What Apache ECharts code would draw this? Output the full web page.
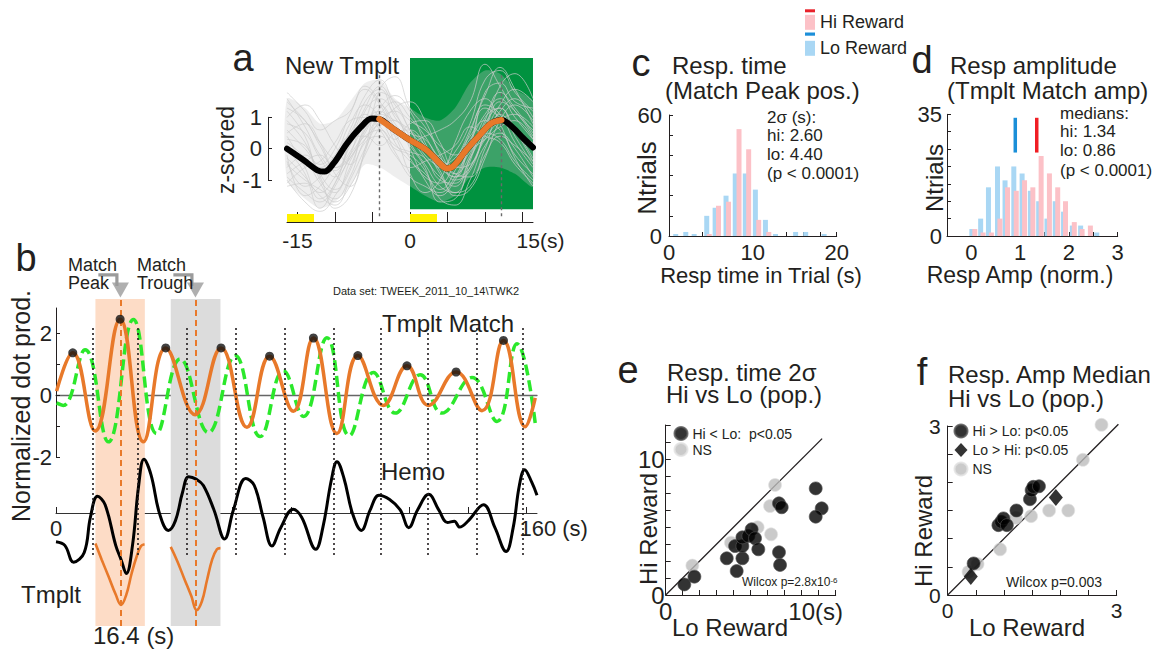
<!DOCTYPE html>
<html><head><meta charset="utf-8">
<script src="https://cdn.jsdelivr.net/npm/echarts@6/dist/echarts.min.js"></script>
<style>html,body{margin:0;padding:0;background:#fff}#c{width:1154px;height:649px}</style>
</head><body><div id="c"></div>
<script>
// ================= DATA =================
// ---- panel a : new template ----
const aMean = [[-16.4,0.0],[-14.2,-0.36],[-12.4,-0.68],[-11.4,-0.73],[-10.2,-0.47],[-8.4,0.17],[-6.6,0.68],[-5.1,0.97],[-4.1,0.95],[-2.3,0.65],[0,0.28],[2.2,-0.04],[4.0,-0.47],[4.9,-0.63],[5.8,-0.55],[7.5,-0.04],[9.3,0.44],[10.8,0.81],[12.2,0.92],[13.7,0.68],[15.0,0.36],[16.4,0.04]];
const aTmplWindow = [-4.1, 12.2];
const aTraceX = [-16.4,-14,-12,-10,-8,-6,-4,-2,0,2,4,6,8,10,12,14,16.4];
const aBandHi = [1.6,1.3,0.8,0.9,1.5,2.1,2.2,1.6,1.3,1.0,0.9,1.3,2.1,2.5,2.4,1.9,1.5];
const aBandLo = [-1.0,-1.6,-1.9,-1.7,-1.2,-0.5,-0.6,-0.9,-1.2,-1.5,-1.7,-1.5,-0.9,-0.6,-0.6,-0.8,-1.2];
const aTraces = [
  [0.8,0.5,-0.3,-0.9,-0.2,1.2,1.6,1.1,0.4,-0.3,-0.9,-1.2,-0.3,0.9,1.8,1.3,0.5],
  [-0.9,-1.4,-1.7,-1.1,0.1,0.9,1.2,0.2,-0.4,-0.8,-1.3,-0.7,0.5,1.4,1.1,0.2,-0.6],
  [1.5,0.9,0.2,-0.3,0.6,1.7,2.2,1.4,0.9,0.6,0.1,-0.2,0.3,1.1,1.6,1.0,0.3],
  [-0.5,-1.0,-1.3,-1.6,-0.9,0.2,0.4,0.0,-0.2,-0.7,-1.6,-1.8,-1.0,0.1,0.5,0.0,-0.9],
  [0.3,0.1,-0.6,-0.2,0.8,1.4,1.0,0.3,0.8,0.9,0.2,-0.6,-0.5,0.4,1.2,1.6,1.0],
  [1.2,0.4,-1.0,-1.4,-0.4,0.5,1.3,1.7,1.2,0.2,-0.6,-0.1,0.8,2.2,2.5,1.8,1.2],
  [-1.1,-0.6,-0.4,0.2,0.9,1.0,0.6,-0.2,-0.6,-0.4,-0.2,0.1,0.7,0.4,0.2,-0.5,-1.1],
  [0.0,-0.8,-1.9,-1.2,-0.3,0.3,0.8,0.9,0.0,-1.0,-1.5,-1.0,-0.1,0.3,0.7,0.9,0.3],
  [1.8,1.2,0.6,0.9,1.2,2.0,1.5,0.7,0.2,0.4,0.6,0.9,1.5,2.7,2.0,1.2,0.6],
  [-0.2,-1.5,-1.2,-0.5,0.4,0.4,0.1,0.5,0.6,0.1,-0.8,-1.4,-1.2,-0.2,0.4,0.1,-0.4],
  [0.5,0.8,0.2,-0.8,-1.2,0.0,1.9,2.3,1.3,0.7,-0.1,-0.8,-0.9,0.0,1.1,0.6,-0.3],
  [-0.6,-0.2,-0.9,-1.9,-1.5,-0.1,0.9,0.4,-0.8,-1.4,-1.0,0.2,1.2,1.6,0.8,-0.3,-1.2],
  [1.0,1.4,0.9,0.1,-0.5,0.3,1.1,1.5,1.0,0.4,-0.4,-0.9,-0.6,0.5,1.4,1.9,1.5],
  [-1.0,-1.7,-2.0,-1.5,-0.6,0.6,1.4,0.8,0.1,-0.6,-1.7,-1.6,-0.4,0.8,1.3,0.6,-0.4],
  [0.2,-0.3,-1.1,-1.7,-1.2,-0.2,0.7,1.3,1.5,0.9,-0.2,-1.0,-0.7,0.6,2.0,2.4,1.6],
  [0.6,0.0,-0.5,0.0,1.1,1.9,1.4,0.5,-0.3,-0.9,-1.1,-0.4,0.6,1.7,2.6,1.9,0.8],
  [-0.3,-0.9,-1.5,-1.8,-1.0,0.0,0.9,1.2,0.6,-0.2,-0.5,-0.3,0.4,0.9,0.6,-0.2,-0.8],
  [1.3,0.9,0.1,-0.6,-0.1,0.9,1.8,1.5,0.6,0.0,-0.7,-1.5,-1.3,-0.3,0.9,1.4,0.9],
  [-0.8,-0.4,-0.2,-0.6,-0.3,0.6,1.0,0.6,0.3,-0.1,-0.4,-0.8,-0.2,1.0,1.3,0.4,-0.5],
  [0.4,-0.6,-1.6,-1.1,0.2,1.3,2.0,1.2,0.2,-0.5,-1.2,-1.4,-0.6,0.3,0.9,1.1,0.7],
  [0.9,0.2,-0.8,-1.3,-0.7,0.7,1.1,0.9,0.6,0.1,-0.6,-0.9,0.2,1.3,1.0,0.5,0.2],
  [-0.4,-1.2,-0.9,-0.3,0.5,1.1,0.7,0.1,-0.1,-0.3,-1.0,-1.1,-0.3,0.6,1.5,1.2,0.4],
  [1.6,0.7,-0.2,-0.7,0.3,1.5,1.9,1.0,0.5,0.3,-0.3,-0.6,0.1,1.8,2.1,1.5,1.3],
  [-1.2,-1.1,-1.4,-0.9,-0.2,0.4,0.6,-0.1,-0.9,-1.2,-1.4,-0.9,0.0,0.5,0.3,-0.4,-1.0]
];
const aStim = [[-16.4,-12.8],[0,3.6]];
const aResp = [0, 16.4];
const aXTicks = [-15,-10,-5,0,5,10,15];
const aXLabels = [-15,0,15];
const aYTicks = [-1,0,1];

// ---- panel b : template match over a session ----
const bMatch = [[0.2,0.13],[5.7,1.37],[13.3,-1.16],[21.8,2.46],[29.7,-1.51],[37.3,1.53],[47.3,-0.63],[56.1,1.53],[64.9,-1.04],[72.6,1.26],[80.7,-0.52],[87.5,1.85],[95.5,-1.24],[102.6,1.28],[111.3,-0.33],[119.3,0.95],[126.6,-0.33],[136.0,0.75],[144.8,-0.5],[152.1,1.77],[159.5,-1.02],[162.9,-0.09]];
const bShifted = [[0.2,-0.25],[2.5,-0.33],[9.9,1.47],[17.8,-1.51],[26.3,2.45],[34.2,-1.24],[42.2,1.17],[51.8,-1.21],[60.9,1.28],[69.4,-1.34],[77.3,0.79],[84.1,-0.69],[92.1,1.86],[99.7,-1.31],[107.9,0.73],[115.3,-0.58],[123.8,0.66],[131.2,-0.58],[141.4,0.57],[149.9,-0.85],[156.7,1.66],[162.9,-0.91]];
const bPeaks = [[5.7,1.37],[21.8,2.46],[37.3,1.53],[56.1,1.53],[72.6,1.26],[87.5,1.85],[102.6,1.28],[119.3,0.95],[136.0,0.75],[152.1,1.77]];
const bHemo = [[0.0,-0.94],[3.0,-1.06],[6.0,-1.61],[9.6,-1.29],[11.7,-0.14],[14.1,0.55],[16.7,0.27],[20.3,-1.06],[22.1,-1.52],[23.9,-1.98],[26.0,-1.06],[28.1,0.90],[29.9,1.76],[32.3,1.25],[35.2,-0.02],[38.2,-0.57],[40.6,-0.25],[43.0,0.67],[45.1,1.19],[47.8,1.10],[50.1,0.90],[53.7,0.10],[57.3,-0.85],[60.3,0.10],[64.5,1.13],[67.4,0.90],[70.4,-0.14],[73.4,-1.08],[76.4,-0.48],[80.6,0.12],[83.5,-0.14],[88.3,-1.19],[90.7,-0.48],[93.7,1.13],[95.5,1.68],[97.9,1.13],[100.8,-0.02],[103.8,-0.57],[106.8,0.10],[109.8,0.58],[113.4,0.44],[117.0,0.10],[119.9,-0.48],[122.9,0.10],[126.7,0.61],[130.1,0.10],[133.1,-0.31],[135.4,-0.27],[137.2,-0.46],[140.2,-0.25],[145.3,0.27],[149.2,-0.48],[153.0,-1.26],[155.4,-0.48],[157.5,0.90],[159.3,1.42],[161.7,1.01],[163.5,0.58]];
const bTmplPeak = [[13.4,-1.0],[15.5,-1.52],[17.9,-2.09],[20.3,-2.67],[22.1,-3.01],[23.9,-2.67],[25.7,-1.98],[27.5,-1.40],[28.9,-1.08],[30.1,-1.02]];
const bTmplTrough = [[39.0,-1.11],[41.2,-1.57],[43.6,-2.15],[46.0,-2.72],[47.8,-3.18],[49.6,-2.89],[51.3,-2.21],[53.1,-1.52],[54.7,-1.19],[55.9,-1.15]];
const bTrialLines = [12.4,27.9,44.4,61.2,77.6,94.3,110.4,126.5,142.9,158.8];
const bPeakBox = [13.4,30.2];
const bTroughBox = [39.0,55.9];
const bMatchTimes = [21.9,47.4];
const bYTicks = [-2,-1,0,1,2];
const bYLabels = [-2,0,2];
const bXTicks = [0,20,40,60,80,100,120,140,160];
const bXLabels = [0,160];

// ---- panel c : response time histogram ----
const cHi = [[4.8,1],[5.9,15],[7.1,17],[8.35,53],[9.5,43],[10.7,8],[11.9,2]];
const cLo = [[0.8,1],[2.0,2],[3.0,1],[4.5,10],[5.5,14],[6.8,20],[7.9,31],[9.1,31],[10.3,23],[11.5,8],[12.7,1],[15.1,2],[16.3,2],[18.5,1]];
const cXTicks = [0,2,4,6,8,10,12,14,16,18,20];
const cXLabels = [0,10,20];
const cYTicks = [0,10,20,30,40,50,60];
const cYLabels = [0,60];

// ---- panel d : response amplitude histogram ----
const dHi = [[0.07,2],[0.24,1],[0.41,1],[0.585,5],[0.74,14],[0.92,13],[1.09,16],[1.26,14],[1.43,23],[1.60,18],[1.77,14],[1.93,10],[2.11,4],[2.27,2],[2.44,3]];
const dLo = [[0.01,2],[0.19,5],[0.35,14],[0.535,20],[0.69,16],[0.87,20],[1.04,18],[1.21,13],[1.38,10],[1.55,5],[1.72,10],[1.89,7],[2.07,3],[2.24,3],[2.57,1]];
const dMedianLo = 0.9;
const dMedianHi = 1.34;
const dXTicks = [-0.5,0,0.5,1,1.5,2,2.5,3];
const dXLabels = [0,1,2,3];
const dYTicks = [0,5,10,15,20,25,30,35];
const dYLabels = [0,35];

// ---- panel e : resp time 2 sigma, population ----
const eSig = [[1.37,0.78],[2.11,1.35],[4.49,2.70],[5.22,1.76],[5.64,2.70],[5.10,3.60],[5.64,3.60],[5.64,4.24],[6.08,4.34],[6.32,4.83],[6.57,4.17],[6.81,3.36],[8.33,3.14],[8.41,2.21],[8.33,6.74],[8.53,6.45],[11.03,7.84],[11.47,6.37],[11.03,5.76]];
const eNS = [[1.96,2.16],[4.80,3.85],[6.76,4.98],[7.75,4.46],[7.67,6.54],[8.04,8.09]];
const eUnity = [0, 11.5];
const eTicks = [0,1.25,2.5,3.75,5,6.25,7.5,8.75,10,11.25,12.5];
const eLabels = [0,10];

// ---- panel f : resp amplitude median, population ----
const fHiSig = [[0.46,0.56],[0.90,1.24],[0.95,1.30],[0.99,1.36],[1.05,1.24],[1.22,1.50],[1.46,1.70],[1.49,1.86],[1.52,1.92],[1.62,1.93]];
const fLoSig = [[0.41,0.33],[1.92,1.73]];
const fNS = [[0.37,0.41],[0.53,0.55],[0.93,0.81],[1.21,1.37],[1.48,1.40],[1.80,1.50],[2.14,1.50],[2.40,2.40],[2.73,3.02]];
const fUnity = [0, 3.03];
const fTicks = [0,0.5,1,1.5,2,2.5,3];
const fLabels = [0,3];

// ================= STYLE / LAYOUT =================
const F = '"Liberation Sans", Arial, Helvetica, sans-serif';
const INK = '#231F20';
const ORANGE = '#E8792A';
const LIME = '#2BE82B';
const PINK = '#FCC1C7';
const LBLUE = '#A9D7F4';
const GREEN = '#00923F';

const grids = [
  {left:287, top:58, width:246, height:164},        //0 a main
  {left:287, top:214, width:246, height:8},         //1 a stimulus bars
  {left:268, top:117.3, width:10, height:62.7},     //2 a y bracket
  {left:56, top:299, width:481, height:327},        //3 b shaded boxes
  {left:56, top:326, width:481, height:229},        //4 b trial lines
  {left:56, top:308, width:481, height:149},        //5 b match traces
  {left:56, top:440, width:481, height:73},         //6 b hemo (baseline = bottom)
  {left:56, top:270, width:481, height:29},         //7 b arrows
  {left:669, top:115, width:167.7, height:121},     //8 c
  {left:947, top:114.3, width:170.7, height:121.7}, //9 d
  {left:665.7, top:425, width:170, height:170},     //10 e
  {left:947.7, top:426, width:169, height:169}      //11 f
].map(g => Object.assign({containLabel:false, outerBoundsMode:'none', show:false}, g));

function hid(grid, min, max) {
  return {gridIndex:grid, type:'value', min, max, show:false, axisLine:{onZero:false}};
}
function vis(grid, min, max, ticks, labels, o) {
  o = o || {};
  return {
    gridIndex:grid, type:'value', min, max, show:true,
    axisLine:{show:o.line !== false, onZero:!!o.onZero, lineStyle:{color:o.lineColor||INK, width:o.lineWidth||1}},
    axisTick:{show:ticks.length>0, inside:true, length:o.tickLen||4, customValues:ticks, lineStyle:{color:INK, width:1}},
    axisLabel:{show:labels.length>0, customValues:labels, fontSize:o.fs||22, fontFamily:F, color:INK,
      margin:(o.margin!=null?o.margin:5), formatter:o.fmt, rich:o.rich},
    splitLine:{show:false}, splitArea:{show:false}
  };
}

const xAxes = [
  vis(0, -16.4, 16.4, aXTicks, aXLabels, {fs:21, tickLen:10, margin:8,
      fmt: v => v === 15 ? '{p|}15(s)' : String(v), rich:{p:{width:36}}}),
  hid(1, -16.4, 16.4),
  hid(2, 0, 1),
  hid(3, 0, 163.5),
  hid(4, 0, 163.5),
  vis(5, 0, 163.5, [], [], {onZero:true, lineColor:'#666', lineWidth:1.3}),
  vis(6, 0, 163.5, bXTicks, bXLabels, {lineColor:'#333', tickLen:6, margin:4,
      fmt: v => v === 160 ? '{p|}160 (s)' : String(v), rich:{p:{width:54}}}),
  hid(7, 0, 163.5),
  vis(8, 0, 20, cXTicks, cXLabels, {margin:5}),
  vis(9, -0.5, 3, dXTicks, dXLabels, {margin:5}),
  vis(10, 0, 12.5, eTicks, eLabels, {fs:24, margin:4, tickLen:5,
      fmt: v => v === 10 ? '{p|}10(s)' : String(v), rich:{p:{width:28}}}),
  vis(11, 0, 3, fTicks, fLabels, {fs:21, margin:5, tickLen:5})
];
const yAxes = [
  hid(0, -2.34, 2.9),
  hid(1, 0, 1),
  vis(2, -1, 1, aYTicks, aYTicks, {fs:22, margin:6}),
  hid(3, 0, 1),
  hid(4, 0, 1),
  vis(5, -2, 2.82, bYTicks, bYLabels, {margin:4}),
  hid(6, 0, 2.39),
  hid(7, 0, 1),
  vis(8, 0, 60, cYTicks, cYLabels, {margin:7}),
  vis(9, 0, 35, dYTicks, dYLabels, {margin:5}),
  vis(10, 0, 12.5, eTicks, eLabels, {fs:24, margin:1, tickLen:5}),
  vis(11, 0, 3, fTicks, fLabels, {fs:21, margin:7, tickLen:5})
];

// layout constants for annotations (in axis units)
const A_GREEN_Y = [2.9, -1.93];
const A_DASH_Y = [2.35, -2.2];
const ARROW_Y = {bar:0.83, stem:0.45, head:0.31};
const D_MED_Y = [24, 34];

const series = [];
function line(xi, data, style, extra) {
  series.push(Object.assign({type:'line', xAxisIndex:xi, yAxisIndex:xi, data, symbol:'none', silent:true,
    clip:false, animation:false, lineStyle:style}, extra||{}));
}
const noLine = {width:0, opacity:0};

// ---- a ----
line(0, aMean, noLine, {z:0, markArea:{silent:true, itemStyle:{color:GREEN},
  data:[[{xAxis:aResp[0], yAxis:A_GREEN_Y[0]},{xAxis:aResp[1], yAxis:A_GREEN_Y[1]}]]}});
series.push({type:'custom', xAxisIndex:0, yAxisIndex:0, data:[[0,0]], z:1, silent:true, animation:false, clip:false,
  renderItem: (params, api) => {
    const top = aTraceX.map((x,i) => api.coord([x, aBandHi[i]]));
    const bot = aTraceX.map((x,i) => api.coord([x, aBandLo[i]])).reverse();
    return {type:'polygon', shape:{points: top.concat(bot), smooth:0.25}, style:{fill:'rgba(200,200,200,0.30)'}};
  }});
aTraces.forEach(t => line(0, aTraceX.map((x,i)=>[x,t[i]]), {color:'#CDCDCD', width:0.7}, {z:2, smooth:0.45}));
line(0, aMean, noLine, {z:3, markLine:{silent:true, symbol:['none','none'], label:{show:false},
  lineStyle:{color:'#6b6b6b', type:[3,3], width:1.4},
  data: aTmplWindow.map(x => [{coord:[x, A_DASH_Y[0]]},{coord:[x, A_DASH_Y[1]]}])}});
line(0, aMean, {color:'#000', width:6, cap:'round', join:'round'}, {z:5, smooth:0.35});
line(0, aMean.filter(p => p[0] >= aTmplWindow[0] && p[0] <= aTmplWindow[1]),
  {color:ORANGE, width:6, cap:'round', join:'round'}, {z:6, smooth:0.35});
line(1, [[-16.4,0],[16.4,0]], noLine, {z:1, markArea:{silent:true, itemStyle:{color:'#FFF200'},
  data: aStim.map(s => [{xAxis:s[0]},{xAxis:s[1]}])}});

// ---- b ----
line(3, [[0,0],[163.5,1]], noLine, {z:0, markArea:{silent:true,
  data:[[{xAxis:bPeakBox[0], itemStyle:{color:'#FDDCC6'}},{xAxis:bPeakBox[1]}],
        [{xAxis:bTroughBox[0], itemStyle:{color:'#DCDCDC'}},{xAxis:bTroughBox[1]}]]}});
line(3, [[0,0],[163.5,1]], noLine, {z:1, markLine:{silent:true, symbol:['none','none'], label:{show:false},
  lineStyle:{color:ORANGE, type:[6,4], width:2}, data: bMatchTimes.map(x => ({xAxis:x}))}});
line(4, [[0,0],[163.5,1]], noLine, {z:1, markLine:{silent:true, symbol:['none','none'], label:{show:false},
  lineStyle:{color:INK, type:[2,3], width:1.6}, data: bTrialLines.map(x => ({xAxis:x}))}});
line(5, bShifted, {color:LIME, width:3.5, type:[11,5]}, {z:3, smooth:0.45});
line(5, bMatch, {color:ORANGE, width:3.5}, {z:4, smooth:0.45});
series.push({type:'scatter', xAxisIndex:5, yAxisIndex:5, data:bPeaks, symbolSize:9, silent:true, animation:false,
  itemStyle:{color:'#111'}, z:5});
line(6, bHemo, {color:'#000', width:3}, {z:3, smooth:0.4});
line(6, bTmplPeak, {color:ORANGE, width:2.6}, {z:3, smooth:0.4});
line(6, bTmplTrough, {color:ORANGE, width:2.6}, {z:3, smooth:0.4});
bMatchTimes.forEach(x => {
  line(7, [[x-7.5, ARROW_Y.bar],[x-1.2, ARROW_Y.bar],[x-1.2, ARROW_Y.stem]], {color:'#9B9B9B', width:3.2, join:'miter'}, {z:2});
  series.push({type:'scatter', xAxisIndex:7, yAxisIndex:7, data:[[x, ARROW_Y.head]], symbol:'triangle',
    symbolRotate:180, symbolSize:[17,15], itemStyle:{color:'#9B9B9B'}, silent:true, animation:false, z:2});
});

// ---- c ----
const barCommon = {type:'bar', barWidth:5, barGap:'-100%', silent:true, animation:false};
series.push(Object.assign({name:'Lo Reward', xAxisIndex:8, yAxisIndex:8, data:cLo, itemStyle:{color:LBLUE}, z:2}, barCommon));
series.push(Object.assign({name:'Hi Reward', xAxisIndex:8, yAxisIndex:8, data:cHi, itemStyle:{color:PINK}, z:3}, barCommon));
// ---- d ----
series.push(Object.assign({name:'Lo Reward', xAxisIndex:9, yAxisIndex:9, data:dLo, itemStyle:{color:LBLUE}, z:2}, barCommon));
series.push(Object.assign({name:'Hi Reward', xAxisIndex:9, yAxisIndex:9, data:dHi, itemStyle:{color:PINK}, z:3}, barCommon));
line(9, [[dMedianLo, D_MED_Y[0]],[dMedianLo, D_MED_Y[1]]], {color:'#1B8FD8', width:3.5}, {z:4});
line(9, [[dMedianHi, D_MED_Y[0]],[dMedianHi, D_MED_Y[1]]], {color:'#F01E24', width:3.5}, {z:4});

// ---- e ----
line(10, [[eUnity[0],eUnity[0]],[eUnity[1],eUnity[1]]], {color:INK, width:1.3}, {z:2});
const nsStyle = {color:'#BDBDBD', borderColor:'#E2E2E2', borderWidth:0.8};
const sigStyle = {color:'#000', borderColor:'#555', borderWidth:0.8};
series.push({type:'scatter', name:'NS', xAxisIndex:10, yAxisIndex:10, data:eNS, symbolSize:13, itemStyle:nsStyle, silent:true, animation:false, z:3, clip:false});
series.push({type:'scatter', name:'Hi < Lo:  p<0.05', xAxisIndex:10, yAxisIndex:10, data:eSig, symbolSize:13, itemStyle:sigStyle, silent:true, animation:false, z:4, clip:false});
// ---- f ----
line(11, [[fUnity[0],fUnity[0]],[fUnity[1],fUnity[1]]], {color:INK, width:1.3}, {z:2});
series.push({type:'scatter', name:'NS', xAxisIndex:11, yAxisIndex:11, data:fNS, symbolSize:13, itemStyle:nsStyle, silent:true, animation:false, z:3, clip:false});
series.push({type:'scatter', name:'Hi > Lo: p<0.05', xAxisIndex:11, yAxisIndex:11, data:fHiSig, symbolSize:13, itemStyle:sigStyle, silent:true, animation:false, z:4, clip:false});
series.push({type:'scatter', name:'Lo > Hi: p<0.05', xAxisIndex:11, yAxisIndex:11, data:fLoSig, symbol:'diamond', symbolSize:[14,17], itemStyle:{color:'#000'}, silent:true, animation:false, z:4, clip:false});

// ---- texts ----
function T(text, x, y, size, o) {
  o = o || {};
  return {type:'text', x, y, rotation:o.rot||0, silent:true, z:100,
    style:{text, fontSize:size, fontFamily:F, fill:INK, align:o.align||'left', verticalAlign:'middle', rich:o.rich}};
}
const R = Math.PI/2;
const graphics = [
  T('a', 243, 58, 38, {align:'center'}),
  T('New Tmplt', 285, 65, 24),
  T('z-scored', 226, 150, 23, {align:'center', rot:R}),
  T('b', 26, 258, 38, {align:'center'}),
  T('Match', 68, 265, 18), T('Peak', 68, 283, 18),
  T('Match', 137, 265, 18), T('Trough', 137, 283, 18),
  T('Data set: TWEEK_2011_10_14\\TWK2', 333, 291, 11),
  T('Tmplt Match', 382, 323, 24),
  T('Hemo', 381, 471, 24),
  T('Tmplt', 21, 594, 24),
  T('16.4 (s)', 93, 635, 24),
  T('Normalized dot prod.', 21, 406, 25, {align:'center', rot:R}),
  T('c', 641, 63, 38, {align:'center'}),
  T('Resp. time', 672, 65, 24),
  T('(Match Peak pos.)', 665, 90, 24),
  T('2\u03c3 (s):', 767, 117, 17), T('hi: 2.60', 767, 135.5, 17), T('lo: 4.40', 767, 154, 17), T('(p < 0.0001)', 767, 173, 17),
  T('Ntrials', 647, 178, 26, {align:'center', rot:R}),
  T('Resp time in Trial (s)', 761, 275, 22, {align:'center'}),
  T('d', 922, 60, 38, {align:'center'}),
  T('Resp amplitude', 950, 65, 24),
  T('(Tmplt Match amp)', 947, 90, 24),
  T('medians:', 1060, 113, 17), T('hi: 1.34', 1060, 131.7, 17), T('lo: 0.86', 1060, 150, 17), T('(p < 0.0001)', 1060, 170, 17),
  T('Ntrials', 934, 178, 24, {align:'center', rot:R}),
  T('Resp Amp (norm.)', 1020, 275, 23, {align:'center'}),
  T('e', 628, 370, 38, {align:'center'}),
  T('Resp. time 2\u03c3', 667, 372, 24),
  T('Hi vs Lo (pop.)', 666, 394, 24),
  T('Wilcox p=2.8x10{s|-6}', 742, 582, 12, {rich:{s:{fontSize:8, verticalAlign:'top', fontFamily:F, fill:INK}}}),
  T('Hi Reward', 648, 529, 24, {align:'center', rot:R}),
  T('Lo Reward', 730, 627, 24, {align:'center'}),
  T('f', 922, 372, 38, {align:'center'}),
  T('Resp. Amp Median', 948, 374, 24),
  T('Hi vs Lo (pop.)', 948, 398, 24),
  T('Wilcox p=0.003', 1006, 582, 14),
  T('Hi Reward', 923, 531, 24, {align:'center', rot:R}),
  T('Lo Reward', 1027, 627, 24, {align:'center'}),
  {type:'rect', shape:{x:805, y:9.3, width:10, height:3}, style:{fill:'#E8212A'}, silent:true, z:100},
  {type:'rect', shape:{x:805, y:32.5, width:10, height:3.2}, style:{fill:'#1C8FD9'}, silent:true, z:100}
];

const legends = [
  {data:['Hi Reward','Lo Reward'], left:805, top:13.3, padding:0, orient:'vertical', itemWidth:10, itemHeight:15, itemGap:8,
   icon:'rect', selectedMode:false, textStyle:{fontSize:18, fontFamily:F, color:INK}},
  {data:['Hi < Lo:  p<0.05','NS'], left:673.5, top:426, padding:0, orient:'vertical', itemWidth:13, itemHeight:13, itemGap:1,
   selectedMode:false, textStyle:{fontSize:14, fontFamily:F, color:INK}},
  {data:['Hi > Lo: p<0.05','Lo > Hi: p<0.05','NS'], left:953.5, top:423.5, padding:0, orient:'vertical', itemWidth:13, itemHeight:14, itemGap:4.5,
   selectedMode:false, textStyle:{fontSize:14, fontFamily:F, color:INK}}
];

const chart = echarts.init(document.getElementById('c'), null, {renderer:'svg', width:1154, height:649});
chart.setOption({
  animation:false, backgroundColor:'#fff',
  grid:grids, xAxis:xAxes, yAxis:yAxes, series, legend:legends, graphic:graphics
});
</script></body></html>
